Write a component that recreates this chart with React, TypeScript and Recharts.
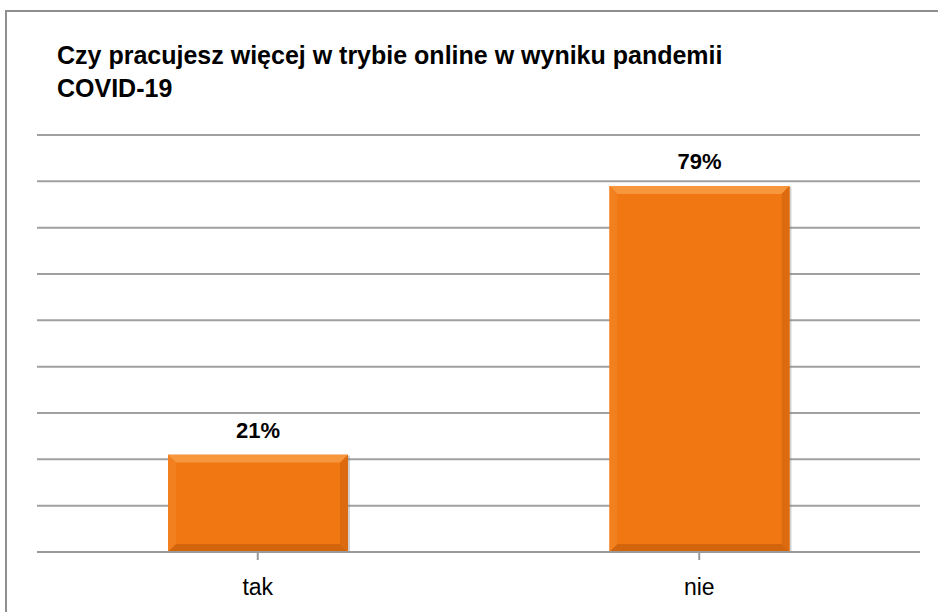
import { BarChart, Bar, XAxis, YAxis, CartesianGrid, LabelList } from 'recharts'

const categories = ['tak', 'nie']
const shares = [21, 79]
const yTicks = [0, 10, 20, 30, 40, 50, 60, 70, 80, 90]

const data = categories.map((name, i) => ({ name, value: shares[i] }))

const FONT = '"Liberation Sans", Arial, sans-serif'

function BevelBar(props: any) {
  const { x, y, width, height } = props
  if (!width || !height) return null
  const b = Math.min(8, height / 2, width / 2)
  return (
    <g>
      <rect x={x + 2} y={y + 1} width={width} height={height} fill="#7f7f7f" opacity={0.35} />
      <rect x={x} y={y} width={width} height={height} fill="#f07712" />
      {/* top bevel */}
      <polygon points={`${x},${y} ${x + width},${y} ${x + width - b},${y + b} ${x + b},${y + b}`} fill="#f7973d" />
      {/* left bevel */}
      <polygon points={`${x},${y} ${x + b},${y + b} ${x + b},${y + height - b} ${x},${y + height}`} fill="#f2801f" />
      {/* right bevel */}
      <polygon points={`${x + width},${y} ${x + width},${y + height} ${x + width - b},${y + height - b} ${x + width - b},${y + b}`} fill="#dc6a0f" />
      {/* bottom bevel */}
      <polygon points={`${x},${y + height} ${x + b},${y + height - b} ${x + width - b},${y + height - b} ${x + width},${y + height}`} fill="#d2640c" />
      <rect x={x + b} y={y + b} width={width - 2 * b} height={height - 2 * b} fill="#f07712" />
    </g>
  )
}

export default function App() {
  return (
    <div style={{ position: 'absolute', left: 0, top: 0, width: 938, height: 612, background: '#fff', overflow: 'hidden' }}>
      <div style={{ position: 'absolute', left: 5, top: 10, width: 960, height: 640, border: '2px solid #8f8f8f', boxSizing: 'border-box' }} />
      <div
        style={{
          position: 'absolute',
          left: 57,
          top: 39,
          fontFamily: FONT,
          fontWeight: 700,
          fontSize: 25,
          lineHeight: '33px',
          color: '#000',
          whiteSpace: 'nowrap',
        }}
      >
        Czy pracujesz więcej w trybie online w wyniku pandemii
        <br />
        COVID-19
      </div>
      <div style={{ position: 'absolute', left: 0, top: 0 }}>
        <BarChart
          width={938}
          height={612}
          data={data}
          margin={{ top: 135, right: 18, left: 37, bottom: 30 }}
          barSize={180}
        >
          <CartesianGrid vertical={false} stroke="#a0a0a0" strokeWidth={2} />
          <YAxis hide domain={[0, 90]} ticks={yTicks} />
          <XAxis
            dataKey="name"
            height={30}
            stroke="#999"
            strokeWidth={2}
            tickSize={8}
            tickMargin={19}
            tick={{ fill: '#000', fontSize: 23, fontFamily: FONT }}
            interval={0}
          />
          <Bar dataKey="value" shape={<BevelBar />} isAnimationActive={false}>
            <LabelList
              dataKey="value"
              position="top"
              offset={17}
              formatter={(v: any) => `${v}%`}
              style={{ fill: '#000', fontSize: 22, fontWeight: 700, fontFamily: FONT }}
            />
          </Bar>
        </BarChart>
      </div>
    </div>
  )
}
